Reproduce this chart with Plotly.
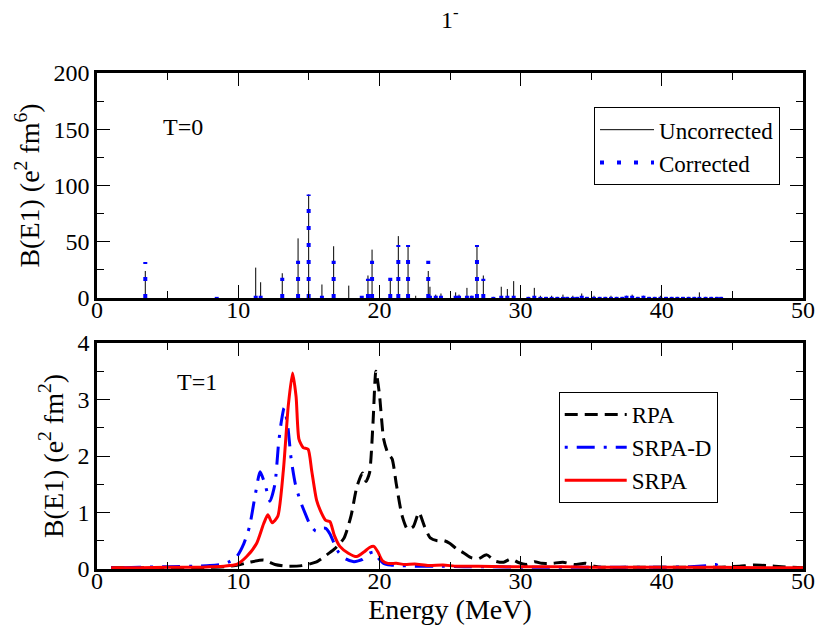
import plotly.graph_objects as go

# ---------------- Data ----------------
# Top panel (T=0): stick spectrum
stick_energy = [3.42, 8.48, 11.24, 11.59, 13.12, 14.24, 14.99, 15.93, 16.76, 17.83,
                18.75, 19.19, 19.48, 20.77, 21.34, 22.03, 22.57, 23.46, 23.58, 23.99,
                24.36, 25.4, 25.64, 26.2, 26.54, 26.91, 27.36, 28.07, 28.63, 29.06,
                29.51, 30.55, 30.97, 31.4, 31.8, 32.2, 32.6, 33.0, 33.3, 33.7,
                34.0, 34.33, 34.7, 35.2, 35.6, 36.0, 36.4, 36.8, 37.2, 37.5,
                37.9, 38.3, 38.7, 39.1, 39.5, 39.9, 40.3, 40.7, 41.1, 41.5,
                41.9, 42.3, 42.66, 43.1, 43.5, 43.9, 44.2]
uncorrected = [24, 0, 27, 14, 22, 53, 92, 12, 46, 11,
               1, 20, 43, 17, 55, 47, 2, 24, 10, 3,
               4, 5, 3, 9, 2, 47, 20, 1, 10, 8,
               15, 1, 9, 2, 1, 2, 1, 3, 1, 2,
               1, 4, 1, 2, 1, 1, 2, 1, 1, 2,
               3, 1, 2, 1, 1, 2, 1, 1, 1, 1,
               1, 1, 5, 1, 1, 1, 1]
corrected = [32, 1, 2, 2, 18, 33, 92, 2, 33, 0,
             2, 17, 33, 18, 47, 47, 0, 33, 2, 2,
             2, 2, 2, 2, 2, 47, 17, 1, 2, 2,
             2, 1, 2, 1, 1, 1, 1, 1, 1, 1,
             1, 2, 1, 1, 1, 1, 1, 1, 1, 2,
             2, 1, 2, 1, 1, 1, 1, 1, 1, 1,
             1, 1, 1, 1, 1, 1, 1]

# Bottom panel (T=1): strength functions
rpa_e = [1, 3, 5, 7, 8, 9, 10, 10.8, 11.8, 12.6, 13.4, 14.5, 15.5, 16.1, 16.8, 17.5,
         18.0, 18.4, 18.8, 19.05, 19.3, 19.55, 19.75, 20.0, 20.3, 20.6, 20.9, 21.2,
         21.6, 22.0, 22.4, 22.8, 23.2, 23.6, 24.1, 24.6, 25.0, 25.5, 26.0, 26.5,
         27.0, 27.6, 28.2, 28.8, 29.3, 29.8, 30.4, 31.0, 31.5, 32.2, 33.0, 33.8,
         34.6, 35.2, 36, 38, 40, 42, 44, 45.5, 46.5, 47.5, 48.5, 50]
rpa_b = [0.02, 0.02, 0.02, 0.02, 0.03, 0.04, 0.07, 0.12, 0.16, 0.08, 0.05, 0.06, 0.12,
         0.22, 0.35, 0.55, 0.95, 1.45, 1.7, 1.55, 1.7, 2.6, 3.5, 3.1, 2.3, 2.05, 1.95,
         1.5, 0.95, 0.7, 0.75, 1.0, 0.75, 0.55, 0.5, 0.5, 0.45, 0.35, 0.28, 0.2, 0.18,
         0.25, 0.14, 0.12, 0.18, 0.12, 0.08, 0.13, 0.1, 0.1, 0.12, 0.08, 0.1, 0.05,
         0.03, 0.03, 0.03, 0.03, 0.03, 0.05, 0.07, 0.06, 0.04, 0.02]

srpad_e = [1, 3, 5, 7, 8, 8.8, 9.3, 9.9, 10.4, 10.8, 11.2, 11.55, 11.9, 12.25, 12.6,
           12.85, 13.05, 13.25, 13.5, 13.75, 14.05, 14.4, 14.75, 15.1, 15.5, 15.9,
           16.2, 16.5, 16.8, 17.1, 17.6, 18.2, 18.8, 19.3, 19.6, 19.9, 20.3, 20.8,
           21.5, 22.5, 24, 26, 28, 30, 32, 34, 36, 38, 40, 42, 43.3, 43.8, 44.2]
srpad_b = [0.02, 0.03, 0.04, 0.05, 0.06, 0.08, 0.12, 0.22, 0.45, 0.75, 1.3, 1.72, 1.5,
           1.2, 1.5, 2.2, 2.6, 2.85, 2.55, 1.95, 1.5, 1.2, 0.98, 0.78, 0.67, 0.72,
           0.72, 0.62, 0.45, 0.3, 0.18, 0.13, 0.17, 0.28, 0.3, 0.2, 0.1, 0.07, 0.06,
           0.05, 0.05, 0.04, 0.04, 0.03, 0.03, 0.03, 0.03, 0.03, 0.03, 0.04, 0.06,
           0.08, 0.03]

srpa_e = [1, 3, 5, 7, 8, 9, 9.9, 10.6, 11.3, 11.8, 12.1, 12.4, 12.8, 13.2, 13.55,
          13.85, 14.1, 14.3, 14.6, 14.95, 15.2, 15.55, 15.9, 16.2, 16.5, 16.8, 17.2,
          17.8, 18.4, 18.9, 19.3, 19.6, 19.9, 20.2, 20.6, 21.2, 21.8, 22.5, 23.5,
          24.5, 25.5, 27, 29, 31, 33, 35, 38, 41, 44, 47, 50]
srpa_b = [0.02, 0.02, 0.03, 0.03, 0.04, 0.05, 0.08, 0.22, 0.45, 0.8, 0.96, 0.82, 0.93,
          1.75, 2.9, 3.47, 3.05, 2.3, 2.15, 2.12, 1.75, 1.22, 0.99, 0.86, 0.84, 0.6,
          0.4, 0.28, 0.22, 0.3, 0.38, 0.4, 0.3, 0.15, 0.1, 0.1, 0.08, 0.09, 0.06,
          0.07, 0.05, 0.05, 0.04, 0.04, 0.04, 0.03, 0.03, 0.03, 0.03, 0.02, 0.02]

x_ticks = [0, 10, 20, 30, 40, 50]

# ---------------- Helpers ----------------
def sticks(energies, values):
    xs, ys = [], []
    for e, v in zip(energies, values):
        if v <= 0:
            continue
        xs += [e, e, None]
        ys += [0, v, None]
    return xs, ys

FONT = "Liberation Serif"
TICK = 24
TITLE = 28
LEG = 23

fig = go.Figure()

ux, uy = sticks(stick_energy, uncorrected)
cx, cy = sticks(stick_energy, corrected)

fig.add_trace(go.Scatter(x=ux, y=uy, mode="lines", name="Uncorrected",
                         line=dict(color="black", width=1),
                         xaxis="x", yaxis="y", legend="legend"))
fig.add_trace(go.Scatter(x=cx, y=cy, mode="lines", name="Corrected",
                         line=dict(color="#0000ff", width=4, dash="4px,13px"),
                         xaxis="x", yaxis="y", legend="legend"))

fig.add_trace(go.Scatter(x=rpa_e, y=rpa_b, mode="lines", name="RPA",
                         line=dict(color="black", width=3, dash="13px,7px",
                                   shape="spline", smoothing=0.6),
                         xaxis="x2", yaxis="y2", legend="legend2"))
fig.add_trace(go.Scatter(x=srpad_e, y=srpad_b, mode="lines", name="SRPA-D",
                         line=dict(color="#0000ff", width=3, dash="3px,9px,18px,9px",
                                   shape="spline", smoothing=0.6),
                         xaxis="x2", yaxis="y2", legend="legend2"))
fig.add_trace(go.Scatter(x=srpa_e, y=srpa_b, mode="lines", name="SRPA",
                         line=dict(color="#ff0000", width=3,
                                   shape="spline", smoothing=0.6),
                         xaxis="x2", yaxis="y2", legend="legend2"))

axis_common = dict(
    showline=True, linewidth=2.5, linecolor="black", mirror="allticks",
    ticks="inside", tickwidth=1, tickcolor="black", ticklen=13,
    showgrid=False, zeroline=False, automargin=False,
    tickfont=dict(family=FONT, size=TICK, color="black"),
)
minor_common = dict(ticks="inside", ticklen=7, tickwidth=1, tickcolor="black", showgrid=False)
title_font = dict(family=FONT, size=TITLE, color="black")
leg_font = dict(family=FONT, size=LEG, color="black")

fig.update_layout(
    width=820, height=631,
    margin=dict(l=97, r=17, t=73, b=62, autoexpand=False),
    plot_bgcolor="white", paper_bgcolor="white",
    font=dict(family=FONT, size=TICK, color="black"),
    xaxis=dict(domain=[0, 1], anchor="y", range=[0, 50], tickvals=x_ticks,
               ticklabelstandoff=-12,
               minor=dict(dtick=5, **minor_common), **axis_common),
    yaxis=dict(domain=[0.5464, 1], anchor="x", range=[0, 200], dtick=50,
               minor=dict(dtick=25, **minor_common),
               title=dict(text="B(E1) (e<sup>2</sup> fm<sup>6</sup>)",
                          font=title_font, standoff=6),
               **axis_common),
    xaxis2=dict(domain=[0, 1], anchor="y2", range=[0, 50], tickvals=x_ticks,
                ticklabelstandoff=-12,
                minor=dict(dtick=5, **minor_common),
                title=dict(text="Energy (MeV)", font=title_font, standoff=0),
                **axis_common),
    yaxis2=dict(domain=[0, 0.4556], anchor="x2", range=[0, 4], dtick=1,
                minor=dict(dtick=0.5, **minor_common),
                title=dict(text="B(E1) (e<sup>2</sup> fm<sup>2</sup>)",
                           font=title_font, standoff=6),
                **axis_common),
    legend=dict(x=0.704, y=0.931, xanchor="left", yanchor="top",
                bordercolor="black", borderwidth=1, bgcolor="white",
                font=leg_font, tracegroupgap=0, itemwidth=54),
    legend2=dict(x=0.654, y=0.357, xanchor="left", yanchor="top",
                 bordercolor="black", borderwidth=1, bgcolor="white",
                 font=leg_font, tracegroupgap=0, itemwidth=62),
    annotations=[
        dict(text="1<sup>-</sup>", x=0.5, y=1.11, xref="paper", yref="paper",
             yanchor="middle", showarrow=False,
             font=dict(family=FONT, size=TICK, color="black")),
        dict(text="T=0", x=6.1, y=152, xref="x", yref="y", showarrow=False,
             font=dict(family=FONT, size=TICK, color="black")),
        dict(text="T=1", x=7.1, y=3.31, xref="x2", yref="y2", showarrow=False,
             font=dict(family=FONT, size=TICK, color="black")),
    ],
)

fig.write_html("out.html")
